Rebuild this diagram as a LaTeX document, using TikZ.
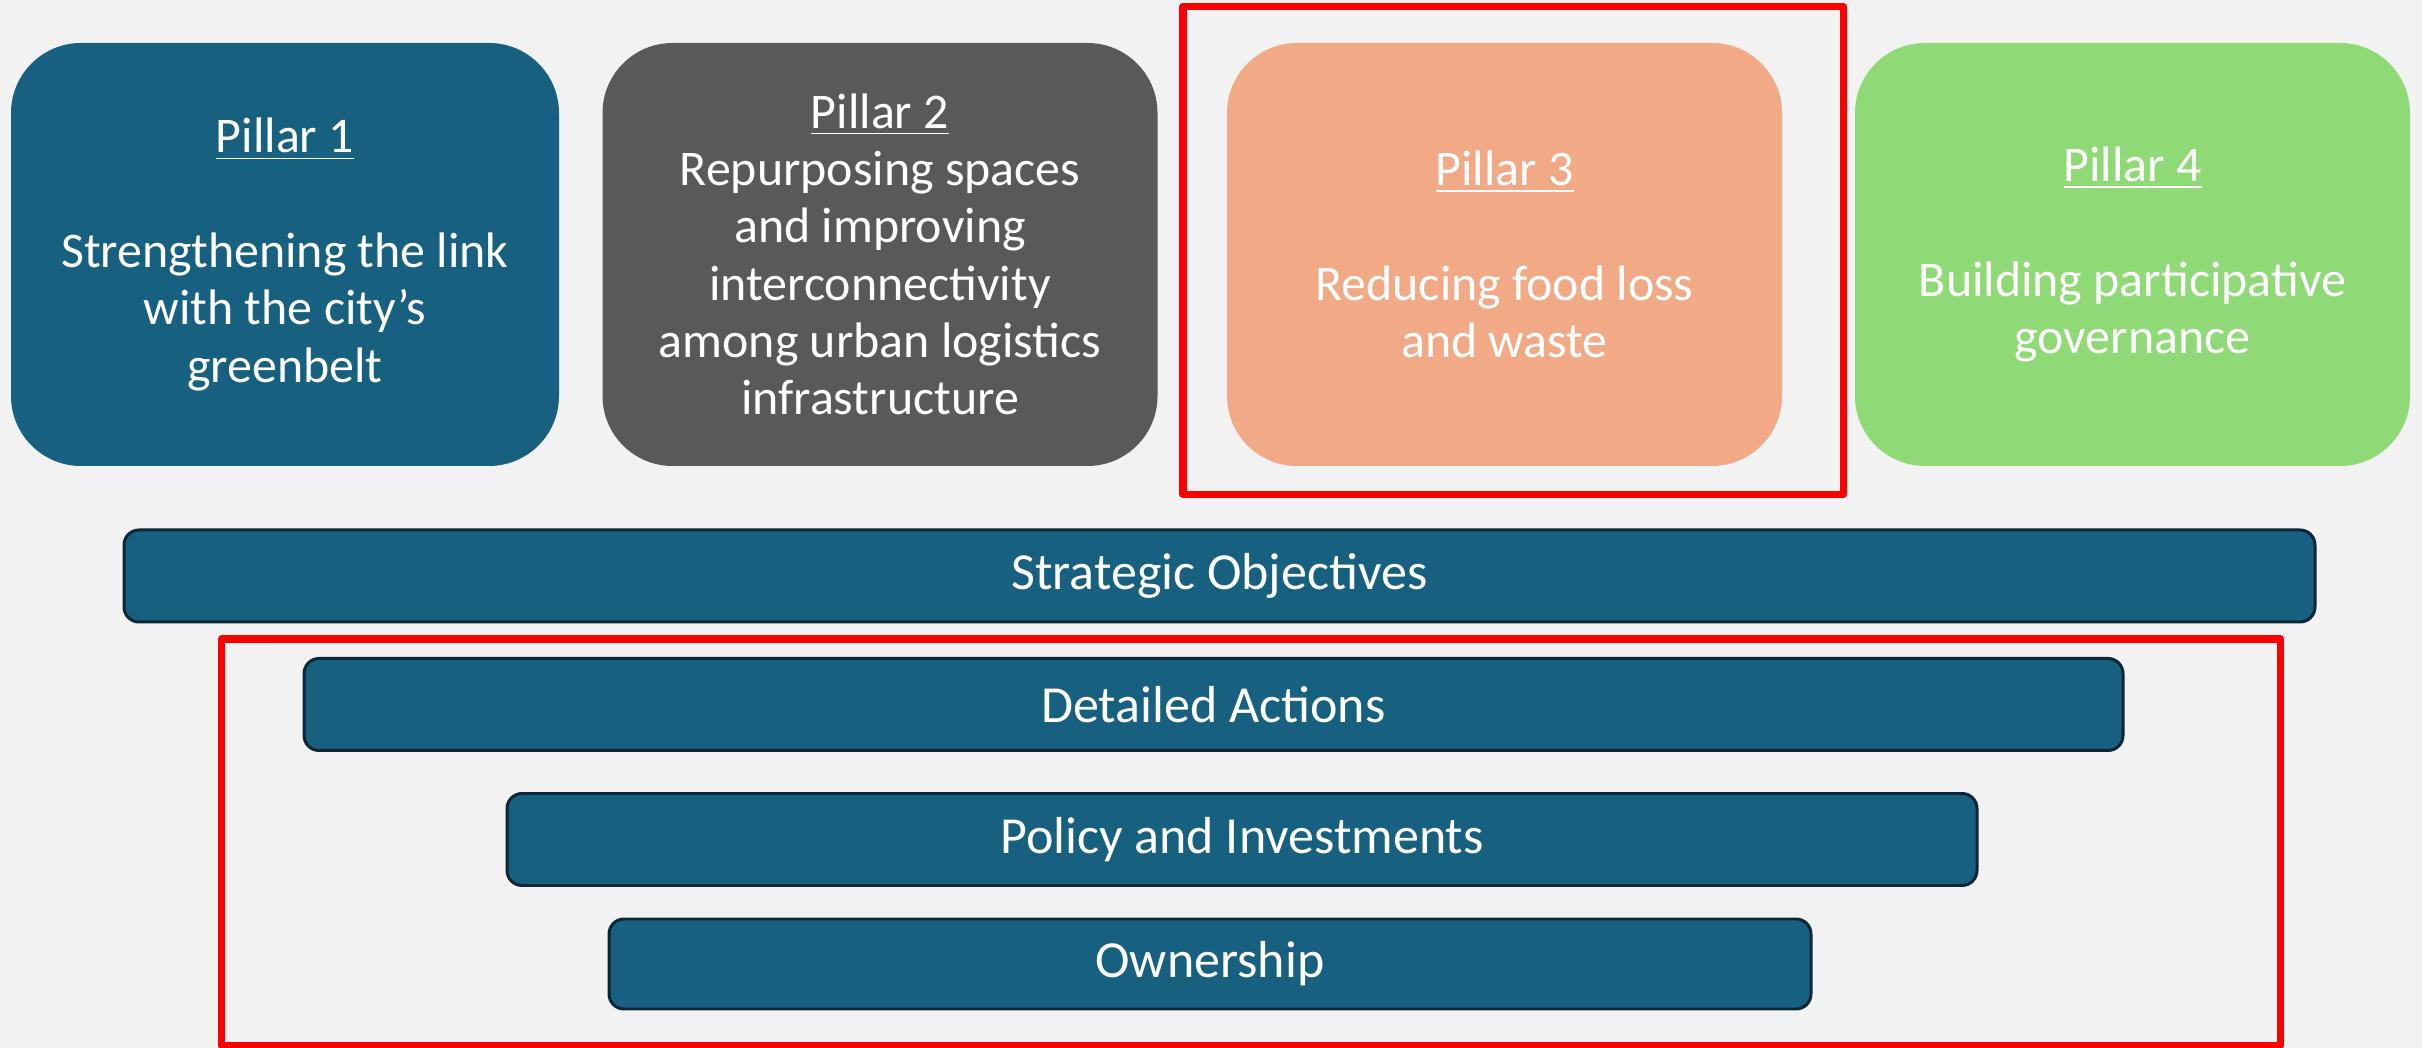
\documentclass[tikz,border=0pt]{standalone}
\usepackage{fontspec}
\setmainfont{Carlito}
\definecolor{bgc}{RGB}{242,242,242}
\definecolor{navy}{RGB}{23,96,128}
\definecolor{navyline}{RGB}{12,38,54}
\definecolor{greyc}{RGB}{89,89,89}
\definecolor{peach}{RGB}{241,170,133}
\definecolor{lgreen}{RGB}{143,218,118}
\begin{document}
\begin{tikzpicture}[x=0.1mm, y=-0.1mm, font=\fontsize{14.2}{16.3}\selectfont, line join=round,
  pillar/.style={rounded corners=7mm, text=white, align=center, inner sep=0pt, minimum height=42.3mm, minimum width=55.5mm},
  bar/.style={draw=navyline, line width=0.85pt, fill=navy, rounded corners=1.5mm, text=white, inner sep=0pt, minimum height=9.2mm, font=\fontsize{14.8}{16.3}\selectfont},
  redbox/.style={draw=red, line width=2pt}]
\def\ytop{254.5}
\fill[bgc] (0,0) rectangle (2422,1048);
\useasboundingbox (0,0) rectangle (2422,1048);
% pillars
\node[pillar, fill=navy, minimum width=54.8mm] (p1) at (285,\ytop)
  {\underline{Pillar 1}\\[16.3pt]Strengthening the link\\with the city’s\\greenbelt};
\node[pillar, fill=greyc] (p2) at (880,\ytop)
  {\underline{Pillar 2}\\Repurposing spaces\\and improving\\interconnectivity\\among urban logistics\\infrastructure};
\node[pillar, fill=peach] (p3) at (1504.5,\ytop)
  {\underline{Pillar 3}\\[16.3pt]Reducing food loss\\and waste};
\node[pillar, fill=lgreen] (p4) at (2132.5,\ytop)
  {\underline{Pillar 4}\\[16.3pt]Building participative\\governance};
% levels
\node[bar, minimum width=219.1mm] (strat) at (1219.5,576) {Strategic Objectives};
\node[bar, minimum width=181.9mm] (actions) at (1213.5,704.5) {Detailed Actions};
\node[bar, minimum width=147mm] (policy) at (1242,839.5) {Policy and Investments};
\node[bar, minimum width=120.2mm, minimum height=9mm] (owner) at (1210,964) {Ownership};
% highlights
\draw[redbox] (1183,6.5) rectangle (1843,494.5);
\draw[redbox] (221.5,639) rectangle (2280,1045.5);
\end{tikzpicture}
\end{document}
